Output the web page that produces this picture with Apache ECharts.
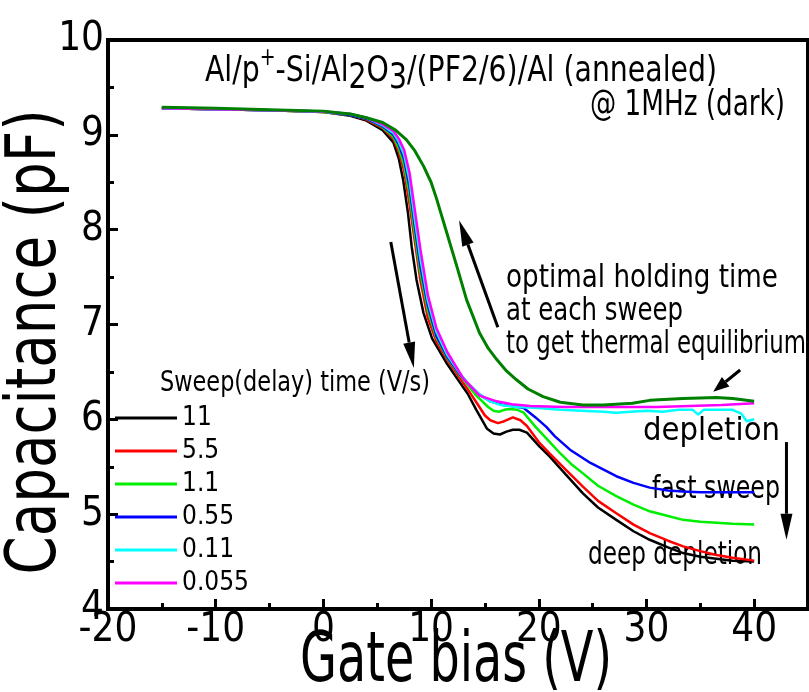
<!DOCTYPE html>
<html>
<head>
<meta charset="utf-8">
<script src="https://cdn.jsdelivr.net/npm/echarts@6/dist/echarts.min.js"></script>
<style>
  html, body { margin: 0; padding: 0; background: #fff; }
  #chart { width: 809px; height: 692px; }
</style>
</head>
<body>
<div id="chart"></div>
<script>
const FONT = "'DejaVu Sans Condensed', 'DejaVu Sans', sans-serif"

// down sweeps, [gate bias V, capacitance pF]
const sweep11 = [[-15, 9.28], [-10, 9.27], [-5, 9.26], [0, 9.24], [2.5, 9.2], [4, 9.15], [5.5, 9.05], [6.5, 8.92], [7, 8.75], [7.4, 8.53], [7.85, 8.18], [8.2, 7.82], [8.65, 7.47], [9.3, 7.12], [10.1, 6.85], [11.4, 6.6], [12.6, 6.4], [13.4, 6.27], [14.2, 6.1], [15.2, 5.9], [15.8, 5.85], [16.4, 5.84], [17, 5.87], [17.6, 5.89], [18.2, 5.89], [18.9, 5.86], [20.1, 5.71], [21, 5.61], [22.5, 5.42], [24.1, 5.22], [25.5, 5.07], [27.2, 4.94], [28.8, 4.82], [30.3, 4.73], [32, 4.65], [33.4, 4.59], [35, 4.55], [36.5, 4.53], [38, 4.51], [40, 4.5]]
const sweep5_5 = [[-15, 9.28], [-10, 9.27], [-5, 9.26], [0, 9.24], [2.5, 9.21], [4, 9.16], [5.5, 9.07], [6.5, 8.96], [7, 8.82], [7.5, 8.62], [8, 8.27], [8.5, 7.87], [9, 7.47], [9.7, 7.07], [10.5, 6.82], [11.5, 6.63], [12.7, 6.43], [13.5, 6.3], [14.2, 6.18], [15, 6.04], [15.5, 5.99], [16.2, 5.96], [16.8, 5.98], [17.6, 6.02], [18.3, 5.99], [18.9, 5.93], [20, 5.76], [21, 5.64], [22.5, 5.47], [24.1, 5.29], [25.5, 5.14], [27.2, 5.01], [28.8, 4.89], [30.3, 4.8], [32, 4.72], [33.4, 4.66], [35, 4.61], [36.5, 4.57], [38, 4.54], [40, 4.51]]
const sweep1_1 = [[-15, 9.28], [-10, 9.27], [-5, 9.26], [0, 9.24], [2.5, 9.21], [4, 9.17], [5.5, 9.08], [6.5, 8.98], [7, 8.86], [7.5, 8.68], [8, 8.37], [8.5, 7.95], [9, 7.55], [9.7, 7.15], [10.5, 6.86], [11.5, 6.65], [12.7, 6.46], [13.5, 6.35], [14.2, 6.25], [15.3, 6.13], [15.8, 6.09], [16.3, 6.08], [16.8, 6.1], [17.3, 6.11], [18, 6.1], [18.6, 6.07], [19.7, 5.92], [20.7, 5.8], [22, 5.64], [23, 5.53], [24.1, 5.43], [25.5, 5.3], [27.2, 5.19], [28.8, 5.1], [30.3, 5.03], [32, 4.98], [33.4, 4.94], [35, 4.92], [36.5, 4.91], [38, 4.9], [40, 4.89]]
const sweep0_55 = [[-15, 9.28], [-10, 9.27], [-5, 9.26], [0, 9.245], [2.5, 9.21], [4, 9.17], [5.5, 9.09], [6.5, 9], [7, 8.9], [7.5, 8.74], [8, 8.45], [8.5, 8.03], [9, 7.62], [9.7, 7.2], [10.5, 6.88], [11.5, 6.66], [12.7, 6.47], [13.5, 6.37], [14.5, 6.26], [15.5, 6.19], [16.7, 6.15], [17.5, 6.14], [18.6, 6.12], [19.7, 6.02], [20.7, 5.92], [21.5, 5.82], [22.9, 5.68], [24.8, 5.54], [27.2, 5.4], [28.8, 5.33], [30.3, 5.28], [32, 5.25], [33.4, 5.24], [35, 5.23], [37, 5.23], [40, 5.23]]
const sweep0_11 = [[-15, 9.28], [-10, 9.27], [-5, 9.26], [0, 9.245], [2.5, 9.22], [4, 9.18], [5.5, 9.1], [6.5, 9.02], [7, 8.93], [7.5, 8.79], [8, 8.52], [8.5, 8.1], [9, 7.7], [9.7, 7.25], [10.5, 6.92], [11.5, 6.68], [12.7, 6.48], [13.5, 6.37], [14.5, 6.26], [15.5, 6.19], [16.5, 6.15], [18, 6.13], [20, 6.12], [22, 6.1], [24, 6.09], [26, 6.08], [27.2, 6.07], [28.5, 6.08], [30, 6.09], [31.5, 6.08], [33, 6.1], [34.3, 6.1], [34.8, 6.05], [35.3, 6.1], [36.5, 6.1], [38, 6.1], [38.8, 6.06], [39.3, 5.98], [40, 6]]
const sweep0_055 = [[-15, 9.28], [-10, 9.27], [-5, 9.26], [0, 9.245], [2.5, 9.22], [4, 9.18], [5.5, 9.11], [6.5, 9.04], [7, 8.96], [7.5, 8.84], [8, 8.6], [8.5, 8.2], [9, 7.8], [9.7, 7.31], [10.5, 6.96], [11.5, 6.71], [13, 6.43], [14.5, 6.25], [16.1, 6.19], [17.5, 6.16], [19.2, 6.14], [22.3, 6.13], [25, 6.13], [28, 6.13], [31, 6.13], [34, 6.14], [37, 6.15], [40, 6.17]]
// return sweep (all rates overlap)
const sweepBack = [[-15, 9.29], [-10, 9.28], [-5, 9.265], [0, 9.25], [2.5, 9.22], [4, 9.18], [5.5, 9.13], [6.7, 9.05], [7.7, 8.95], [8.5, 8.83], [9.3, 8.67], [10, 8.5], [10.5, 8.33], [11.45, 7.97], [12.4, 7.61], [13.3, 7.26], [14.5, 6.91], [15.3, 6.75], [16.1, 6.63], [17, 6.51], [17.9, 6.42], [19, 6.32], [20.4, 6.24], [22, 6.18], [24.1, 6.15], [26, 6.15], [28.7, 6.17], [30.3, 6.2], [33.4, 6.22], [36.5, 6.23], [38, 6.22], [40, 6.19]]

const rateNames = ['11', '5.5', '1.1', '0.55', '0.11', '0.055']
const rateColors = ['#000000', '#ff0000', '#00ee00', '#0000ff', '#00ffff', '#ff00ff']
const rateData = [sweep11, sweep5_5, sweep1_1, sweep0_55, sweep0_11, sweep0_055]

// annotation arrows in data coords [from, to]
const arrows = [
  [[6.26, 7.87], [8.4, 6.54]],
  [[16.2, 6.97], [12.6, 8.1]],
  [[38.7, 6.52], [36.2, 6.29]],
  [[43.0, 5.76], [43.0, 4.73]]
]

const chart = echarts.init(document.getElementById('chart'))
const measure = document.createElement('canvas').getContext('2d')

const series = rateData.map((d, i) => ({
  name: rateNames[i],
  type: 'line',
  data: d,
  showSymbol: false,
  symbol: 'none',
  lineStyle: { width: 2.5, color: rateColors[i] },
  itemStyle: { color: rateColors[i] },
  z: 2 + i
}))
series.push({
  name: 'return',
  type: 'line',
  data: sweepBack,
  showSymbol: false,
  symbol: 'none',
  lineStyle: { width: 3, color: '#008000' },
  itemStyle: { color: '#008000' },
  z: 10
})

// text squeezed to the width it takes in the original
function fitText(text, x, y, size, width, align, rotation) {
  measure.font = size + 'px ' + FONT
  const w = measure.measureText(text).width
  return {
    type: 'text',
    x: x,
    y: y,
    rotation: rotation || 0,
    scaleX: width / w,
    style: {
      text: text,
      font: size + 'px ' + FONT,
      fill: '#000',
      align: align || 'left',
      verticalAlign: 'middle'
    }
  }
}

chart.setOption({
  animation: false,
  backgroundColor: '#fff',
  grid: {
    left: 108,
    right: 1,
    top: 40,
    bottom: 83,
    show: true,
    borderColor: '#000',
    borderWidth: 4,
    outerBoundsMode: 'none'
  },
  legend: {
    data: rateNames,
    orient: 'vertical',
    left: 115,
    top: 405,
    padding: 0,
    itemWidth: 62,
    itemHeight: 3,
    itemGap: 7,
    icon: 'rect',
    textStyle: { fontSize: 26, lineHeight: 26, fontFamily: FONT, color: '#000' }
  },
  xAxis: [{
    type: 'value',
    min: -20,
    max: 45,
    interval: 10,
    axisLine: { show: true, onZero: false, lineStyle: { color: '#000', width: 4 } },
    axisTick: { inside: true, length: 10, lineStyle: { color: '#000', width: 3 } },
    splitLine: { show: false },
    axisLabel: {
      fontSize: 40,
      fontFamily: FONT,
      color: '#000',
      margin: 2,
      showMaxLabel: false,
      formatter: v => (v % 10 === 0 && v <= 40 ? String(v) : '')
    }
  }, {
    type: 'value',
    position: 'bottom',
    min: -20,
    max: 45,
    interval: 5,
    axisLine: { show: false, onZero: false },
    axisTick: { inside: true, length: 6, lineStyle: { color: '#000', width: 3 } },
    axisLabel: { show: false },
    splitLine: { show: false }
  }],
  yAxis: {
    type: 'value',
    min: 4,
    max: 10,
    interval: 1,
    axisLine: { show: true, onZero: false, lineStyle: { color: '#000', width: 4 } },
    axisTick: { inside: true, length: 10, lineStyle: { color: '#000', width: 3 } },
    minorTick: { show: true, splitNumber: 2, length: 6, lineStyle: { color: '#000', width: 3 } },
    splitLine: { show: false },
    axisLabel: { fontSize: 40, fontFamily: FONT, color: '#000', margin: 4 }
  },
  series: series
})

measure.font = '36px ' + FONT
const titleW = measure.measureText('Al/p+-Si/Al2O3/(PF2/6)/Al (annealed)').width

const texts = [
  {
    type: 'text',
    x: 461,
    y: 72,
    scaleX: 520 / titleW,
    style: {
      text: 'Al/p{sup|+}-Si/Al{sub|2}O{sub|3}/(PF2/6)/Al (annealed)',
      font: '36px ' + FONT,
      fill: '#000',
      align: 'center',
      verticalAlign: 'middle',
      lineHeight: 50,
      rich: {
        sup: { fontSize: 24, fontFamily: FONT, lineHeight: 28, verticalAlign: 'top', fill: '#000' },
        sub: { fontSize: 36, fontFamily: FONT, lineHeight: 30, verticalAlign: 'bottom', fill: '#000' }
      }
    }
  },
  fitText('@ 1MHz (dark)', 785, 106, 36, 195, 'right'),
  fitText('Sweep(delay) time (V/s)', 160, 384, 28, 270),
  fitText('optimal holding time', 506, 279, 32, 272),
  fitText('at each sweep', 506, 312, 32, 177),
  fitText('to get thermal equilibrium', 506, 345, 32, 300),
  fitText('depletion', 643, 432, 32, 137),
  fitText('fast sweep', 652, 490, 32, 128),
  fitText('deep depletion', 588, 556, 32, 174),
  fitText('Gate bias (V)', 456, 663, 70, 312, 'center'),
  fitText('Capacitance (pF)', 37, 342, 70, 465, 'center', Math.PI / 2)
]

// arrows drawn through the chart's own coordinate conversion
const arrowEls = arrows.map((a, i) => {
  const p0 = chart.convertToPixel({ gridIndex: 0 }, a[0])
  const p1 = chart.convertToPixel({ gridIndex: 0 }, a[1])
  const dx = p1[0] - p0[0]
  const dy = p1[1] - p0[1]
  const len = Math.sqrt(dx * dx + dy * dy)
  const ux = dx / len
  const uy = dy / len
  const headLen = i === 2 ? 16 : 26
  const headW = 6
  const bx = p1[0] - ux * headLen
  const by = p1[1] - uy * headLen
  return {
    type: 'group',
    children: [
      {
        type: 'line',
        shape: { x1: p0[0], y1: p0[1], x2: bx, y2: by },
        style: { stroke: '#000', lineWidth: 3 }
      },
      {
        type: 'polygon',
        shape: { points: [[p1[0], p1[1]], [bx - uy * headW, by + ux * headW], [bx + uy * headW, by - ux * headW]] },
        style: { fill: '#000' }
      }
    ]
  }
})

chart.setOption({ graphic: texts.concat(arrowEls) })
</script>
</body>
</html>
